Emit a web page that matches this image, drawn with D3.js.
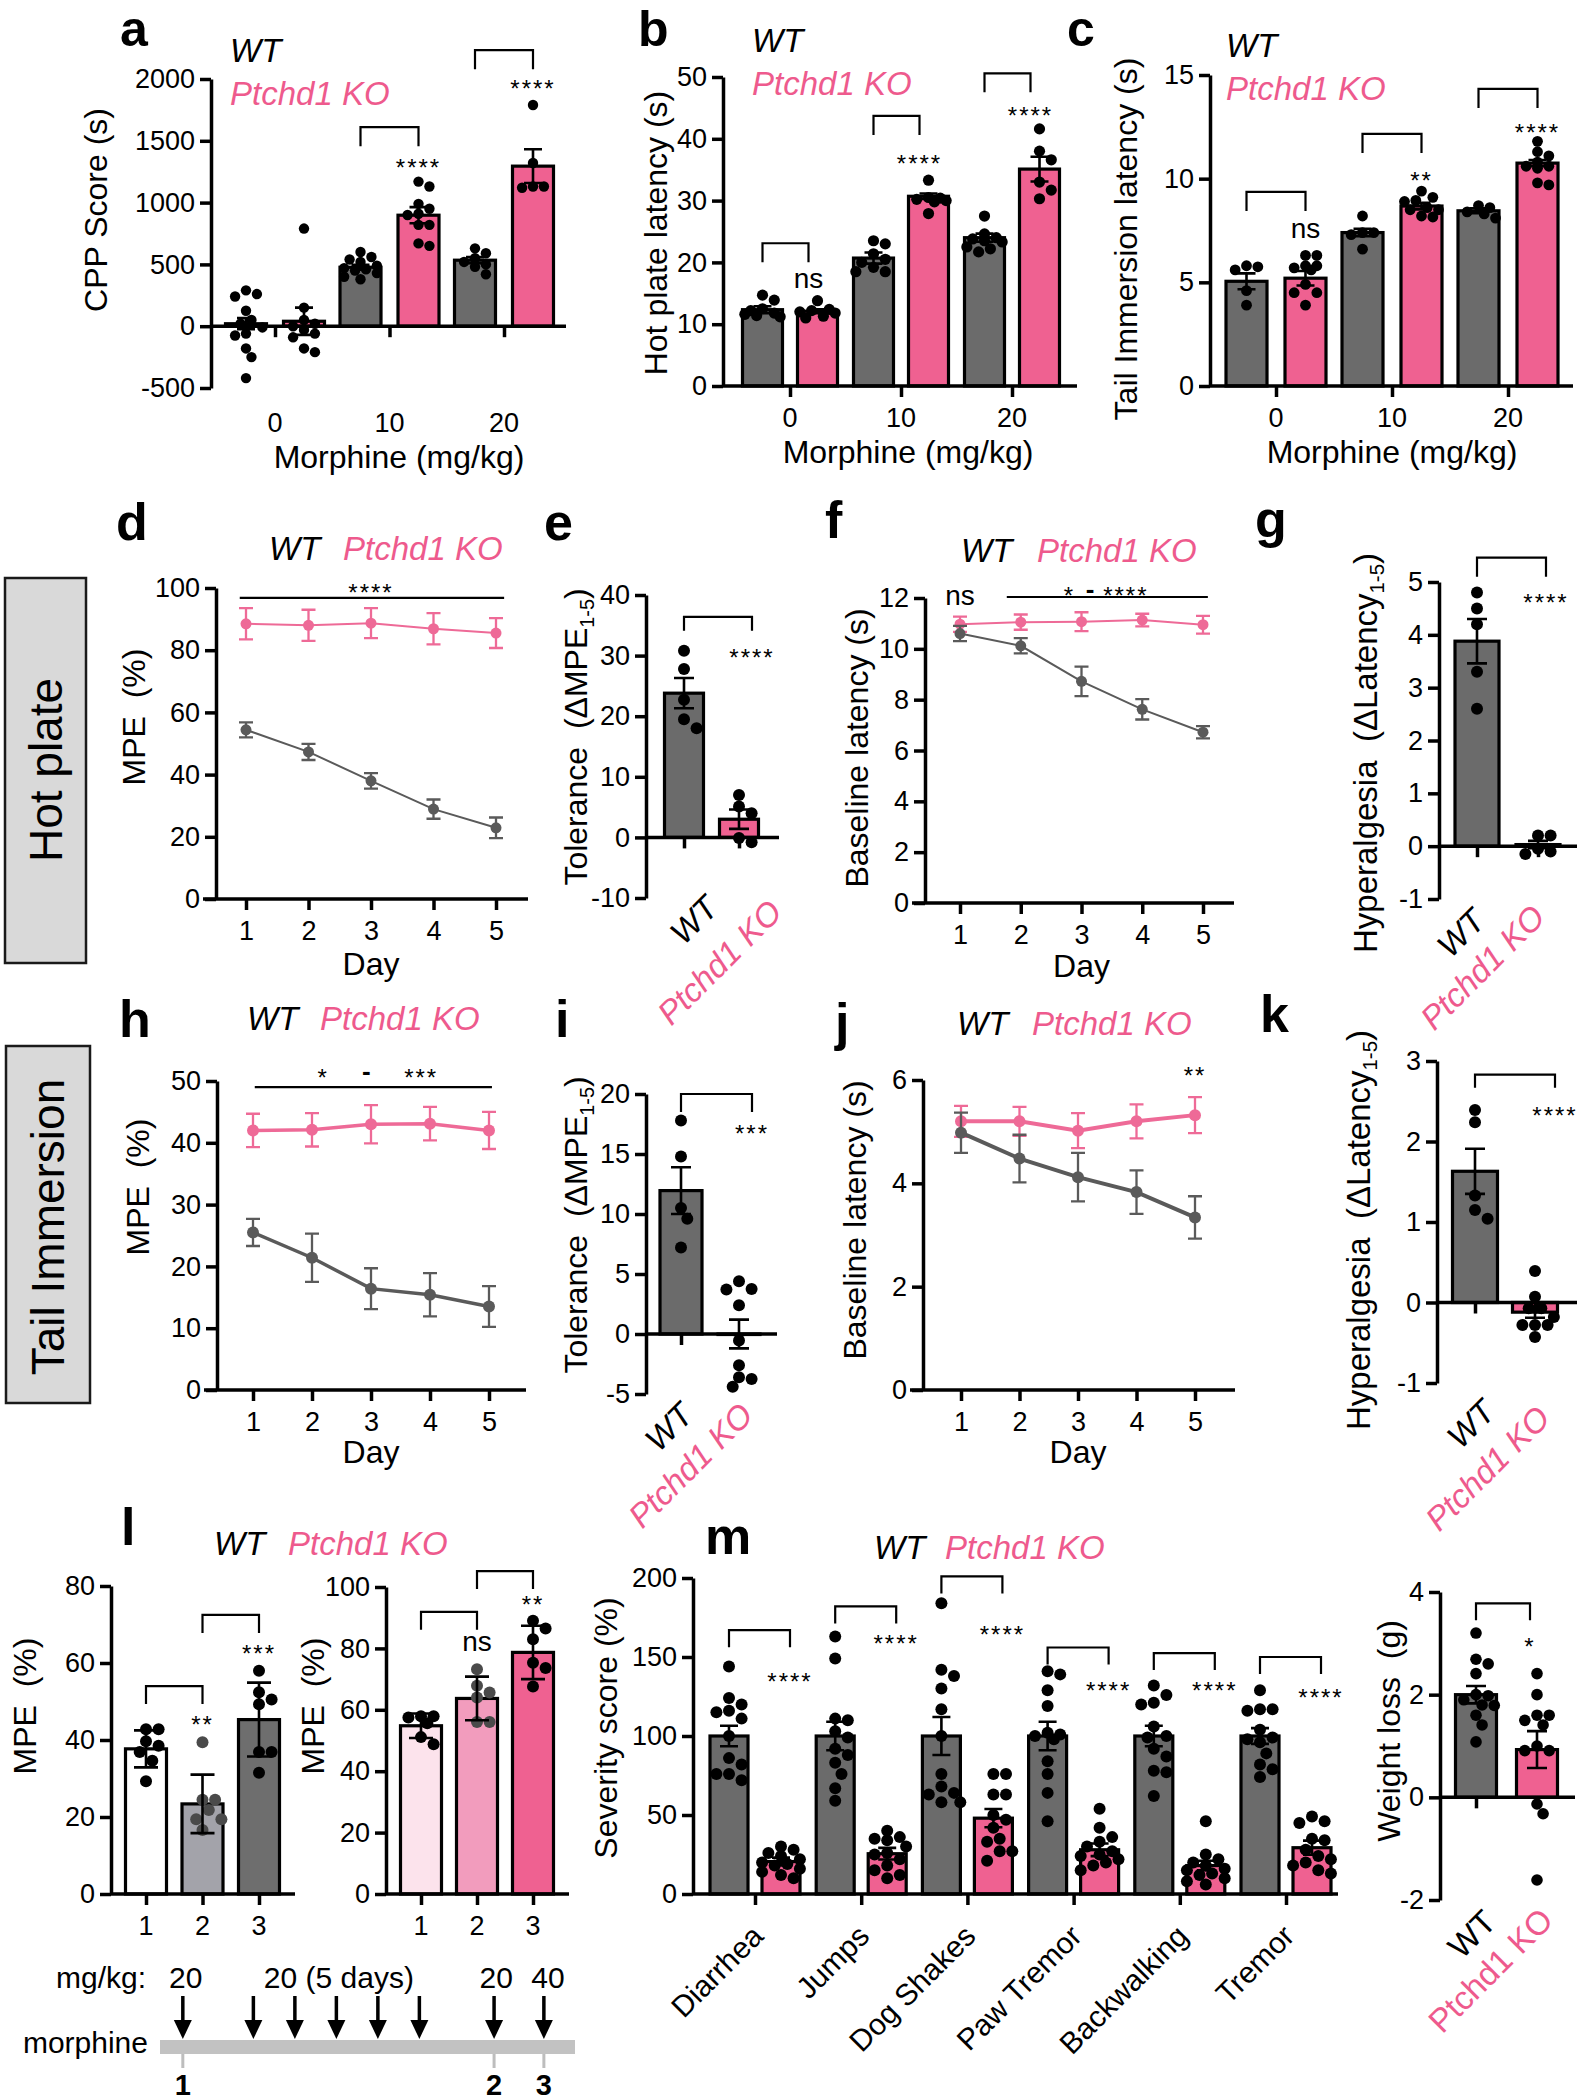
<!DOCTYPE html>
<html><head><meta charset="utf-8">
<script src="https://cdn.jsdelivr.net/npm/d3@7"></script>
<style>
html,body{margin:0;padding:0;background:#fff;}
svg{display:block;}
text{white-space:pre;}
</style></head>
<body>
<svg id="fig" width="1583" height="2100" xmlns="http://www.w3.org/2000/svg"></svg>
<script>
// ================= DATA =================
const days = [1, 2, 3, 4, 5];
const genotypes = ["WT", "Ptchd1 KO"];
const doseCats = ["0", "10", "20"];

// a – CPP score
const aTicks = [-500, 0, 500, 1000, 1500, 2000];
const aWTMean = [20, 477, 534], aWTSem = [45, 20, 25];
const aKOMean = [40, 898, 1295], aKOSem = [110, 65, 137];
const aWTDots = [[290,240,260,125,50,20,-10,-60,-75,-180,-250,-420],[600,560,540,520,490,470,460,450,430,400,380],[630,590,550,520,500,480,420]];
const aKODots = [[790,150,50,20,0,-30,-90,-180,-210,-60],[1170,1130,990,950,910,900,820,820,670,650],[1790,1320,1130,1120,1130]];
const aSigLabel = [null, "****", "****"];
const aSigTop = [null, 1610, 2233];
const aSigY = [null, 1327, 1966];

// b – hot plate latency
const bTicks = [0, 10, 20, 30, 40, 50];
const bWTMean = [12.35, 20.7, 24.0], bWTSem = [0.55, 0.9, 0.65];
const bKOMean = [12.1, 30.7, 35.1], bKOSem = [0.3, 0.45, 2.0];
const bWTDots = [[14.7,13.9,12.5,12.2,11.8,11.4,11.2,11.6],[23.5,23.0,21.4,20.5,20.0,19.2,18.5,18.5],[27.5,24.6,24,23.8,23.3,22.5,22.2,21.7,23.5]];
const bKODots = [[13.8,12.4,12.2,11.8,11.3,11.0,12.0],[33.3,30.5,30.2,30.0,29.8,27.9,30.4],[41.6,38.0,36.6,33.0,31.7,30.3]];
const bSigLabel = ["ns", "****", "****"];
const bSigTop = [23.1, 43.7, 50.6];
const bSigY = [17.2, 36.9, 44.7];

// c – tail immersion latency
const cTicks = [0, 5, 10, 15];
const cWTMean = [5.05, 7.4, 8.45], cWTSem = [0.38, 0.18, 0.12];
const cKOMean = [5.2, 8.68, 10.75], cKOSem = [0.35, 0.16, 0.15];
const cWTDots = [[5.8,5.75,5.6,4.6,3.9],[8.2,7.4,7.4,7.3,6.6],[8.7,8.6,8.4,8.3,8.1]];
const cKODots = [[6.3,6.3,5.8,5.8,5.7,5.6,4.9,4.5,4.5,3.9],[9.4,9.1,8.95,8.9,8.6,8.5,8.5,8.2,8.15],[11.8,11.3,11.1,10.8,10.6,10.6,10.5,9.8,9.7]];
const cSigLabel = ["ns", "**", "****"];
const cSigTop = [9.36, 12.16, 14.33];
const cSigY = [7.53, 10.18, 12.49];

// d – hot plate MPE over days
const dTicks = [0, 20, 40, 60, 80, 100];
const dKOMean = [88.5, 88.0, 88.7, 86.9, 85.5], dKOErr = [5, 5, 4.8, 5, 4.8];
const dWTMean = [54.4, 47.3, 38.0, 28.9, 22.9], dWTErr = [2.4, 2.6, 2.5, 3.1, 3.3];
const dSigLine = [0.9, 5.13, 96.8];
const dSigText = [{d: 3, v: 100.3, s: "****"}];

// e – tolerance (hot plate)
const eTicks = [-10, 0, 10, 20, 30, 40];
const eMean = [23.8, 3.0], eSem = [2.5, 1.6];
const eDots = [[30.8,27.8,22.7,19.5,18.0],[7.0,5.1,4.0,-0.1,-0.8]];
const eSig = {top: 36.4, y: 30.6, s: "****"};

// f – baseline latency (hot plate)
const fTicks = [0, 2, 4, 6, 8, 10, 12];
const fKOMean = [10.97, 11.05, 11.07, 11.13, 10.95], fKOErr = [0.3, 0.3, 0.37, 0.25, 0.35];
const fWTMean = [10.6, 10.12, 8.72, 7.62, 6.72], fWTErr = [0.3, 0.3, 0.58, 0.4, 0.24];
const fSigLine = [1.77, 5.08, 12.04];
const fSigText = [{d: 1, v: 12.04, s: "ns"}, {d: 2.8, v: 12.3, s: "*"}, {d: 3.14, v: 12.3, s: "-"}, {d: 3.73, v: 12.3, s: "****"}];

// g – hyperalgesia (hot plate)
const gTicks = [-1, 0, 1, 2, 3, 4, 5];
const gMean = [3.88, 0.03], gSem = [0.42, 0.07];
const gDots = [[4.8,4.5,4.2,3.3,2.6],[0.2,0.2,-0.15,-0.1,-0.05]];
const gSig = {top: 5.46, y: 4.71, s: "****"};

// h – tail immersion MPE over days
const hTicks = [0, 10, 20, 30, 40, 50];
const hKOMean = [42.0, 42.1, 43.0, 43.1, 42.0], hKOErr = [2.7, 2.7, 3.1, 2.7, 3.0];
const hWTMean = [25.5, 21.4, 16.4, 15.4, 13.5], hWTErr = [2.2, 3.9, 3.3, 3.5, 3.3];
const hSigLine = [1.03, 5.05, 49.0];
const hSigText = [{d: 2.19, v: 51.5, s: "*"}, {d: 2.92, v: 51.5, s: "-"}, {d: 3.85, v: 51.5, s: "***"}];

// i – tolerance (tail immersion)
const iTicks = [-5, 0, 5, 10, 15, 20];
const iMean = [11.95, 0.0], iSem = [1.95, 1.2];
const iDots = [[17.8,14.8,10.5,9.6,7.2],[4.4,3.75,3.7,2.4,-0.55,-2.6,-3.6,-3.75,-4.4]];
const iSig = {top: 20.0, y: 17.2, s: "***"};

// j – baseline latency (tail immersion)
const jTicks = [0, 2, 4, 6];
const jKOMean = [5.2, 5.2, 5.02, 5.2, 5.32], jKOErr = [0.3, 0.28, 0.34, 0.33, 0.35];
const jWTMean = [4.98, 4.48, 4.12, 3.83, 3.34], jWTErr = [0.39, 0.46, 0.47, 0.42, 0.41];
const jSigText = [{d: 5, v: 6.19, s: "**"}];

// k – hyperalgesia (tail immersion)
const kTicks = [-1, 0, 1, 2, 3];
const kMean = [1.63, -0.12], kSem = [0.28, 0.07];
const kDots = [[2.39,2.24,1.33,1.15,1.04],[0.39,0.07,-0.07,-0.07,-0.18,-0.28,-0.28,-0.28,-0.43]];
const kSig = {top: 2.83, y: 2.39, s: "****"};

// l – MPE at test points 1–3
const lCats = ["1", "2", "3"];
const lWTTicks = [0, 20, 40, 60, 80];
const lKOTicks = [0, 20, 40, 60, 80, 100];
const lWTMean = [37.7, 23.4, 45.3], lWTSd = [4.8, 7.6, 9.6];
const lWTDots = [[42.8,42.8,39.7,38.5,36.9,34.6,29.3],[39.4,24.5,24.5,21.8,19.4,19.4,16.6],[58.0,52.4,50.5,49.3,36.9,36.9,31.5]];
const lKOMean = [54.8, 63.7, 78.7], lKOSd = [4.0, 7.1, 8.7];
const lKODots = [[57.9,57.5,57.9,55.6,48.8,51.1],[73.2,67.8,65.6,64,56,56],[89,86.5,83,73.6,75.3,67.6]];
const lWTSig = [{a: "1", b: "2", top: 54, y: 45.5, s: "**"}, {a: "2", b: "3", top: 72.5, y: 63.9, s: "***"}];
const lKOSig = [{a: "1", b: "2", top: 91.9, y: 81.8, s: "ns"}, {a: "2", b: "3", top: 105.2, y: 96.1, s: "**"}];
// timeline
const tlInject = [1, 2.7, 3.7, 4.7, 5.7, 6.7, 8.5, 9.7];
const tlDoseLabel = ["20", "20 (5 days)", "20", "40"];
const tlDoseT = [1.07, 4.76, 8.55, 9.8];
const tlTestLabel = ["1", "2", "3"];
const tlTestT = [1, 8.5, 9.7];

// m – withdrawal severity
const mCats = ["Diarrhea", "Jumps", "Dog Shakes", "Paw Tremor", "Backwalking", "Tremor"];
const mTicks = [0, 50, 100, 150, 200];
const mWTMean = [100, 100, 100, 100, 100, 100], mWTSem = [6.5, 9, 12, 9, 6.5, 5];
const mKOMean = [20.5, 25.5, 48, 28, 18, 29.3], mKOSem = [2.5, 3.7, 5.8, 4, 3, 4.5];
const mWTDots = [[144,124,120,116,115,111,100,86,82,76,76,72],[163,149,111,110,103,99,92,88,83,76,67,59],[184,142,138,130,117,100,76,68,64,63,58,58],[141,139,129,119,102,101,100,98,84,76,64,46],[132,126,121,120,106,100,99,92,87,78,77,62],[129,117,117,116,104,99,98,96,89,79,74,82]];
const mKODots = [[30,28,26,24,22,20,19,18,16,14,12,10],[40,36,35,34,30,26,25,22,18,15,12,10],[76,76,63,63,50,47,42,35,33,27,27,21],[54,42,36,33,30,27,25,24,22,20,18,15],[46,25,22,20,18,16,15,13,12,10,8,6],[49,46,45,35,34,28,24,22,18,15,13,20]];
const mSigTop = [167, 182, 201, 156, 152.5, 150];
const mSigY = [138, 162, 168, 132, 132, 128];
const mSigLabel = ["****", "****", "****", "****", "****", "****"];

// weight loss
const wTicks = [-2, 0, 2, 4];
const wMean = [2.0, 0.93], wSem = [0.17, 0.36];
const wDots = [[3.2,2.69,2.6,2.41,2.0,1.98,1.9,1.8,1.79,1.6,1.41,1.08],[2.41,2.0,1.6,1.6,1.5,1.41,1.0,0.91,0.91,-0.13,-0.32,-1.61]];
const wSig = {top: 3.78, y: 3.04, s: "*"};

// ================= STYLE / HELPERS =================
const svg = d3.select("#fig");
const FF = "'Liberation Sans', Arial, Helvetica, sans-serif";
svg.attr("font-family", FF);
const PINK = "#ef6191", PINKTXT = "#ee5a8d", WTGRAY = "#6b6b6b";
const LPINK = "#ee6a97", LGRAY = "#5a5a5a";

function T(g, x, y, s, o = {}) {
  const t = g.append("text").attr("x", x).attr("y", y).text(s)
    .attr("font-size", o.fs || 27).attr("fill", o.fill || "#000")
    .attr("text-anchor", o.anchor || "start");
  if (o.italic) t.attr("font-style", "italic");
  if (o.bold) t.attr("font-weight", "bold");
  if (o.ls != null) t.attr("letter-spacing", o.ls);
  if (o.rot != null) t.attr("transform", `rotate(${o.rot},${x},${y})`);
  return t;
}
function vTitle(g, cx, cy, parts, fs = 32) {
  const t = g.append("text").attr("transform", `translate(${cx + 0.36 * fs},${cy}) rotate(-90)`)
    .attr("text-anchor", "middle").attr("font-size", fs).attr("fill", "#000");
  let shifted = false;
  parts.forEach(p => {
    const ts = t.append("tspan").text(p[0]);
    if (p[1] === "sub") { ts.attr("font-size", fs * 0.62).attr("dy", fs * 0.22); shifted = true; }
    else if (shifted) { ts.attr("dy", -fs * 0.22); shifted = false; }
  });
}
function yAxis(g, y, x0, ticks, o = {}) {
  const ax = d3.axisLeft(y).tickValues(ticks).tickSize(o.tl || 11).tickSizeOuter(0)
    .tickPadding(o.tp || 5).tickFormat(d => String(d));
  const a = g.append("g").attr("transform", `translate(${x0},0)`).call(ax);
  a.attr("font-family", FF).attr("font-size", o.fs || 27);
  a.select(".domain").attr("stroke", "#000").attr("stroke-width", 3.5);
  a.selectAll(".tick line").attr("stroke", "#000").attr("stroke-width", 3.5);
  a.selectAll(".tick text").attr("fill", "#000");
  return a;
}
function swarm(vals, y, r, maxOff) {
  const order = vals.map((v, i) => i).sort((a, b) => vals[b] - vals[a]);
  const placed = [], off = new Array(vals.length).fill(0);
  const step = r * 1.05, cands = [0];
  for (let k = 1; k * step <= maxOff + 0.01; k++) cands.push(k * step, -k * step);
  order.forEach(i => {
    const py = y(vals[i]);
    let best = 0, bestD = -1;
    for (const c of cands) {
      let md = Infinity;
      placed.forEach(p => { const d = Math.hypot(p[0] - c, p[1] - py); if (d < md) md = d; });
      if (md >= 2 * r * 0.95) { best = c; break; }
      if (md > bestD) { bestD = md; best = c; }
    }
    off[i] = best; placed.push([best, py]);
  });
  return off;
}
function renderBars(g, y, items, o) {
  const base = y(Math.max(0, y.domain()[0]));
  items.forEach(it => {
    const yt = y(it.m);
    g.append("rect").attr("x", it.cx - o.w / 2).attr("y", Math.min(yt, base))
      .attr("width", o.w).attr("height", Math.max(Math.abs(base - yt), 0.5))
      .attr("fill", it.fill).attr("stroke", "#000").attr("stroke-width", 3.2);
  });
  g.append("line").attr("x1", o.x0).attr("x2", o.xEnd).attr("y1", y(0)).attr("y2", y(0))
    .attr("stroke", "#000").attr("stroke-width", 3.5);
  const ax = d3.axisBottom(o.tickScale).tickSize(11).tickSizeOuter(0).tickFormat(() => "");
  const a = g.append("g").attr("transform", `translate(0,${y(0)})`).call(ax);
  a.select(".domain").remove();
  a.selectAll(".tick line").attr("stroke", "#000").attr("stroke-width", 3.5);
  items.forEach(it => {
    const offs = swarm(it.dots, y, o.r, o.w / 2 + 1);
    it.dots.forEach((v, i) => g.append("circle").attr("cx", it.cx + offs[i]).attr("cy", y(v))
      .attr("r", o.r).attr("fill", it.dotFill || "#000"));
  });
  items.forEach(it => {
    const t = y(it.m + it.e), b = y(it.m - it.e), c = o.cap || 9;
    g.append("path").attr("d", `M${it.cx},${b}V${t}M${it.cx - c},${t}H${it.cx + c}M${it.cx - c},${b}H${it.cx + c}`)
      .attr("fill", "none").attr("stroke", "#000").attr("stroke-width", 2.6);
  });
}
function sigText(g, x, yc, s) {
  if (s === "ns") T(g, x, yc + 8, "ns", {anchor: "middle", fs: 28});
  else if (s === "-") T(g, x, yc + 8, "-", {anchor: "middle", fs: 26, bold: true});
  else T(g, x, yc + 14, s, {anchor: "middle", fs: 24, ls: 2});
}
function bracket(g, x1, x2, yTop, leg, s, lx, lyc) {
  g.append("path").attr("d", `M${x1},${yTop + leg}V${yTop}H${x2}V${yTop + leg}`)
    .attr("fill", "none").attr("stroke", "#000").attr("stroke-width", 2.2);
  sigText(g, lx, lyc, s);
}
function legendRow(g, x1, x2, yb) {
  T(g, x1, yb, "WT", {italic: true, fs: 33});
  T(g, x2, yb, "Ptchd1 KO", {italic: true, fs: 33, fill: PINKTXT});
}
function grouped(cats, x, sub, wm, ws, wd, km, ks, kd) {
  const items = [];
  cats.forEach((c, i) => {
    items.push({cx: x(c) + sub("WT"), m: wm[i], e: ws[i], dots: wd[i], fill: WTGRAY});
    items.push({cx: x(c) + sub("KO"), m: km[i], e: ks[i], dots: kd[i], fill: PINK});
  });
  return items;
}

// -------- grouped dose panels a, b, c --------
function dosePanel(o) {
  const g = svg.append("g");
  const y = d3.scaleLinear().domain(o.domain).range([o.yBot, o.yTop]);
  const x = d3.scalePoint().domain(doseCats).range(o.cRange);
  const sub = d3.scalePoint().domain(["WT", "KO"]).range([-o.off, o.off]);
  renderBars(g, y, grouped(doseCats, x, sub, o.wm, o.ws, o.wd, o.km, o.ks, o.kd),
    {x0: o.x0, xEnd: o.xEnd, w: o.w, r: o.r, tickScale: x});
  yAxis(g, y, o.x0, o.ticks);
  doseCats.forEach(c => T(g, x(c), o.yBot + o.lblDy, c, {anchor: "middle"}));
  T(g, o.titleX, o.yBot + o.lblDy + 36, "Morphine (mg/kg)", {anchor: "middle", fs: 32});
  vTitle(g, o.ytX, o.ytY, [[o.ytitle]]);
  doseCats.forEach((c, i) => {
    if (!o.sigS[i]) return;
    const x1 = x(c) + sub("WT"), x2 = x(c) + sub("KO") + (o.x2shift || 0);
    bracket(g, x1, x2, y(o.sigTop[i]), 19, o.sigS[i], x2, y(o.sigY[i]));
  });
  T(g, o.legX, o.legY1, "WT", {italic: true, fs: 33});
  T(g, o.legX, o.legY2, "Ptchd1 KO", {italic: true, fs: 33, fill: PINKTXT});
  T(g, o.letX, 46, o.letter, {bold: true, fs: 50});
}
dosePanel({domain: [-500, 2000], yBot: 388, yTop: 79, cRange: [275, 504], off: 29, w: 41, r: 5.2,
  x0: 211, xEnd: 566, ticks: aTicks, wm: aWTMean, ws: aWTSem, wd: aWTDots, km: aKOMean, ks: aKOSem, kd: aKODots,
  lblDy: 44, titleX: 399, ytX: 95, ytY: 210, ytitle: "CPP Score (s)",
  sigS: aSigLabel, sigTop: aSigTop, sigY: aSigY, legX: 230, legY1: 62, legY2: 105, letX: 120, letter: "a"});
dosePanel({domain: [0, 50], yBot: 386, yTop: 77, cRange: [790, 1012], off: 27.5, w: 40, r: 5.6,
  x0: 723, xEnd: 1077, ticks: bTicks, wm: bWTMean, ws: bWTSem, wd: bWTDots, km: bKOMean, ks: bKOSem, kd: bKODots,
  lblDy: 41, titleX: 908, ytX: 655, ytY: 233, ytitle: "Hot plate latency (s)", x2shift: -9,
  sigS: bSigLabel, sigTop: bSigTop, sigY: bSigY, legX: 752, legY1: 52, legY2: 95, letX: 638, letter: "b"});
dosePanel({domain: [0, 15], yBot: 386, yTop: 75, cRange: [1276, 1508], off: 29.5, w: 41, r: 5.4,
  x0: 1210, xEnd: 1573, ticks: cTicks, wm: cWTMean, ws: cWTSem, wd: cWTDots, km: cKOMean, ks: cKOSem, kd: cKODots,
  lblDy: 41, titleX: 1392, ytX: 1125, ytY: 239, ytitle: "Tail Immersion latency (s)",
  sigS: cSigLabel, sigTop: cSigTop, sigY: cSigY, legX: 1226, legY1: 57, legY2: 100, letX: 1067, letter: "c"});

// -------- line panels d, f, h, j --------
function linePanel(o) {
  const g = svg.append("g");
  const y = d3.scaleLinear().domain(o.domain).range([o.yBot, o.yTop]);
  const x = d3.scaleLinear().domain([1, 5]).range(o.dayRange);
  g.append("line").attr("x1", o.x0 - 13).attr("x2", o.xEnd).attr("y1", o.yBot).attr("y2", o.yBot)
    .attr("stroke", "#000").attr("stroke-width", 3.5);
  const ax = d3.axisBottom(x).tickValues(days).tickSize(11).tickSizeOuter(0).tickPadding(11).tickFormat(d => String(d));
  const a = g.append("g").attr("transform", `translate(0,${o.yBot})`).call(ax);
  a.attr("font-family", FF).attr("font-size", 27);
  a.select(".domain").remove();
  a.selectAll(".tick line").attr("stroke", "#000").attr("stroke-width", 3.5);
  a.selectAll(".tick text").attr("fill", "#000");
  yAxis(g, y, o.x0, o.ticks);
  o.series.forEach(s => {
    g.append("path").attr("d", d3.line().x((d, i) => x(days[i])).y(d => y(d))(s.m))
      .attr("fill", "none").attr("stroke", s.c).attr("stroke-width", o.lw);
    s.m.forEach((v, i) => {
      const cx = x(days[i]), t = y(v + s.e[i]), b = y(v - s.e[i]);
      g.append("path").attr("d", `M${cx},${b}V${t}M${cx - 7},${t}H${cx + 7}M${cx - 7},${b}H${cx + 7}`)
        .attr("fill", "none").attr("stroke", s.c).attr("stroke-width", 2.3);
      g.append("circle").attr("cx", cx).attr("cy", y(v)).attr("r", o.r).attr("fill", s.c);
    });
  });
  if (o.sigLine) g.append("line").attr("x1", x(o.sigLine[0])).attr("x2", x(o.sigLine[1]))
    .attr("y1", y(o.sigLine[2])).attr("y2", y(o.sigLine[2])).attr("stroke", "#000").attr("stroke-width", 2.2);
  (o.sigText || []).forEach(s => sigText(g, x(s.d), y(s.v), s.s));
  T(g, x(3), o.yBot + o.dayDy, "Day", {anchor: "middle", fs: 32});
  vTitle(g, o.ytX, o.ytY, [[o.ytitle]]);
  legendRow(g, o.legX1, o.legX2, o.legY);
  T(g, o.letX, o.letY, o.letter, {bold: true, fs: 52});
}
linePanel({domain: [0, 100], yBot: 899, yTop: 588, x0: 216, xEnd: 528, dayRange: [246, 496], ticks: dTicks, lw: 2, r: 5.5,
  series: [{m: dKOMean, e: dKOErr, c: LPINK}, {m: dWTMean, e: dWTErr, c: LGRAY}],
  sigLine: dSigLine, sigText: dSigText, dayDy: 76, ytX: 133, ytY: 717, ytitle: "MPE  (%)",
  legX1: 269, legX2: 343, legY: 560, letX: 116, letY: 540, letter: "d"});
linePanel({domain: [0, 12], yBot: 903, yTop: 598, x0: 925, xEnd: 1234, dayRange: [960, 1203], ticks: fTicks, lw: 2, r: 5.5,
  series: [{m: fKOMean, e: fKOErr, c: LPINK}, {m: fWTMean, e: fWTErr, c: LGRAY}],
  sigLine: fSigLine, sigText: fSigText, dayDy: 74, ytX: 856, ytY: 748, ytitle: "Baseline latency (s)",
  legX1: 961, legX2: 1037, legY: 562, letX: 825, letY: 538, letter: "f"});
linePanel({domain: [0, 50], yBot: 1390, yTop: 1081, x0: 217, xEnd: 526, dayRange: [253, 489], ticks: hTicks, lw: 3.5, r: 6,
  series: [{m: hKOMean, e: hKOErr, c: LPINK}, {m: hWTMean, e: hWTErr, c: LGRAY}],
  sigLine: hSigLine, sigText: hSigText, dayDy: 73, ytX: 137, ytY: 1187, ytitle: "MPE  (%)",
  legX1: 247, legX2: 320, legY: 1030, letX: 119, letY: 1037, letter: "h"});
linePanel({domain: [0, 6], yBot: 1390, yTop: 1080, x0: 923, xEnd: 1235, dayRange: [961, 1195], ticks: jTicks, lw: 4, r: 6,
  series: [{m: jKOMean, e: jKOErr, c: LPINK}, {m: jWTMean, e: jWTErr, c: LGRAY}],
  sigText: jSigText, dayDy: 73, ytX: 854, ytY: 1220, ytitle: "Baseline latency (s)",
  legX1: 957, legX2: 1032, legY: 1035, letX: 835, letY: 1040, letter: "j"});

// -------- two-bar panels e, g, i, k, weight --------
function twoBar(o) {
  const g = svg.append("g");
  const y = d3.scaleLinear().domain(o.domain).range([o.yBot, o.yTop]);
  const x = d3.scalePoint().domain(genotypes).range(o.cRange);
  const items = genotypes.map((k, i) => ({cx: x(k), m: o.mean[i], e: o.sem[i], dots: o.dots[i], fill: i ? PINK : WTGRAY}));
  renderBars(g, y, items, {x0: o.x0, xEnd: o.xEnd, w: o.w, r: o.r, tickScale: x, cap: 10});
  yAxis(g, y, o.x0, o.ticks);
  const x1 = x(genotypes[0]), x2 = x(genotypes[1]) + o.x2shift;
  bracket(g, x1, x2, y(o.sig.top), o.leg, o.sig.s, x2, y(o.sig.y));
  genotypes.forEach((k, i) => T(g, x(k) + o.lblDx[i], o.yBot + o.lblDy[i], k,
    {anchor: "end", rot: -45, fs: 33, italic: o.italic, fill: i ? PINKTXT : "#000"}));
  vTitle(g, o.ytX, o.ytY, o.ytitle, o.ytFs || 32);
  if (o.letter) T(g, o.letX, o.letY, o.letter, {bold: true, fs: 52});
}
twoBar({domain: [-10, 40], yBot: 898, yTop: 595, x0: 646, xEnd: 779, cRange: [684, 739], w: 39, r: 6, ticks: eTicks,
  mean: eMean, sem: eSem, dots: eDots, sig: eSig, leg: 14, x2shift: 13, lblDx: [36, 45], lblDy: [12, 16], italic: true,
  ytX: 575, ytY: 737, ytitle: [["Tolerance  (ΔMPE"], ["1-5", "sub"], [")"]], letter: "e", letX: 544, letY: 540});
twoBar({domain: [-1, 5], yBot: 899, yTop: 582, x0: 1439, xEnd: 1577, cRange: [1477, 1538], w: 44, r: 6, ticks: gTicks,
  mean: gMean, sem: gSem, dots: gDots, sig: gSig, leg: 19, x2shift: 8, lblDx: [10, 9], lblDy: [24, 20], italic: true,
  ytX: 1365, ytY: 753, ytitle: [["Hyperalgesia  (ΔLatency"], ["1-5", "sub"], [")"]], ytFs: 33, letter: "g", letX: 1255, letY: 537});
twoBar({domain: [-5, 20], yBot: 1394, yTop: 1094, x0: 646, xEnd: 777, cRange: [681, 739], w: 42, r: 6, ticks: iTicks,
  mean: iMean, sem: iSem, dots: iDots, sig: iSig, leg: 18, x2shift: 13, lblDx: [14, 16], lblDy: [23, 23], italic: true,
  ytX: 575, ytY: 1225, ytitle: [["Tolerance  (ΔMPE"], ["1-5", "sub"], [")"]], letter: "i", letX: 555, letY: 1037});
twoBar({domain: [-1, 3], yBot: 1383, yTop: 1061, x0: 1437, xEnd: 1577, cRange: [1475, 1535], w: 45, r: 6, ticks: kTicks,
  mean: kMean, sem: kSem, dots: kDots, sig: kSig, leg: 13, x2shift: 20, lblDx: [22, 17], lblDy: [31, 37], italic: true,
  ytX: 1358, ytY: 1230, ytitle: [["Hyperalgesia  (ΔLatency"], ["1-5", "sub"], [")"]], ytFs: 33, letter: "k", letX: 1260, letY: 1032});
twoBar({domain: [-2, 4], yBot: 1900, yTop: 1592, x0: 1440, xEnd: 1575, cRange: [1476, 1537], w: 41, r: 5.8, ticks: wTicks,
  mean: wMean, sem: wSem, dots: wDots, sig: wSig, leg: 17, x2shift: -7, lblDx: [22, 18], lblDy: [24, 22], italic: false,
  ytX: 1388, ytY: 1731, ytitle: [["Weight loss  (g)"]]});

// -------- side boxes --------
function sideBox(x, y, w, h, label, cy) {
  const g = svg.append("g");
  g.append("rect").attr("x", x).attr("y", y).attr("width", w).attr("height", h)
    .attr("fill", "#d9d9d9").attr("stroke", "#1a1a1a").attr("stroke-width", 2.5);
  g.append("text").attr("transform", `translate(${x + w / 2 + 16},${cy}) rotate(-90)`)
    .attr("text-anchor", "middle").attr("font-size", 46).attr("fill", "#000").text(label);
}
sideBox(5, 578, 81, 385, "Hot plate", 770);
sideBox(6, 1046, 84, 357, "Tail Immersion", 1227);

// -------- panel l --------
function lPanel(o) {
  const g = svg.append("g");
  const y = d3.scaleLinear().domain(o.domain).range([1894, o.yTop]);
  const x = d3.scalePoint().domain(lCats).range(o.cRange);
  const items = lCats.map((c, i) => ({cx: x(c), m: o.mean[i], e: o.sd[i], dots: o.dots[i], fill: o.fills[i], dotFill: o.dotFills[i]}));
  renderBars(g, y, items, {x0: o.x0, xEnd: o.xEnd, w: 41, r: 6, tickScale: x, cap: 12});
  yAxis(g, y, o.x0, o.ticks);
  lCats.forEach(c => T(g, x(c), 1935, c, {anchor: "middle"}));
  o.sig.forEach(s => bracket(g, x(s.a), x(s.b), y(s.top), 18, s.s, x(s.b), y(s.y)));
  vTitle(g, o.ytX, 1706, [["MPE  (%)"]]);
}
lPanel({domain: [0, 80], yTop: 1586, x0: 111, xEnd: 295, cRange: [146, 259], ticks: lWTTicks,
  mean: lWTMean, sd: lWTSd, dots: lWTDots, fills: ["#ffffff", "#a3a3aa", "#6e6e6e"], dotFills: ["#000", "#4a4a4a", "#000"],
  sig: lWTSig, ytX: 24});
lPanel({domain: [0, 100], yTop: 1587, x0: 386, xEnd: 569, cRange: [421, 533], ticks: lKOTicks,
  mean: lKOMean, sd: lKOSd, dots: lKODots, fills: ["#fce3ec", "#f29cbd", "#ef6191"], dotFills: ["#000", "#4a4a4a", "#000"],
  sig: lKOSig, ytX: 312});
{
  const g = svg.append("g");
  legendRow(g, 214, 288, 1555);
  T(g, 121, 1545, "l", {bold: true, fs: 52});
  const tx = d3.scaleLinear().domain([0.45, 10.45]).range([160, 575]);
  g.append("rect").attr("x", tx(0.45)).attr("y", 2040).attr("width", tx(10.45) - tx(0.45)).attr("height", 14).attr("fill", "#c2c2c2");
  tlTestT.forEach((t, i) => {
    g.append("line").attr("x1", tx(t)).attr("x2", tx(t)).attr("y1", 2054).attr("y2", 2068).attr("stroke", "#bdbdbd").attr("stroke-width", 3);
    T(g, tx(t), 2095, tlTestLabel[i], {anchor: "middle", bold: true, fs: 29});
  });
  tlInject.forEach(t => {
    const cx = tx(t);
    g.append("line").attr("x1", cx).attr("x2", cx).attr("y1", 1996).attr("y2", 2024).attr("stroke", "#000").attr("stroke-width", 3.5);
    g.append("path").attr("d", `M${cx - 9},2020L${cx + 9},2020L${cx},2039Z`).attr("fill", "#000");
  });
  tlDoseT.forEach((t, i) => T(g, tx(t), 1988, tlDoseLabel[i], {anchor: "middle", fs: 30}));
  T(g, 146, 1988, "mg/kg:", {anchor: "end", fs: 30});
  T(g, 148, 2053, "morphine", {anchor: "end", fs: 30});
}

// -------- panel m --------
{
  const g = svg.append("g");
  const y = d3.scaleLinear().domain([0, 200]).range([1894, 1578]);
  const x = d3.scalePoint().domain(mCats).range([755, 1286]);
  const sub = d3.scalePoint().domain(["WT", "KO"]).range([-26, 26]);
  renderBars(g, y, grouped(mCats, x, sub, mWTMean, mWTSem, mWTDots, mKOMean, mKOSem, mKODots),
    {x0: 693, xEnd: 1338, w: 38, r: 6, tickScale: x});
  yAxis(g, y, 693, mTicks);
  mCats.forEach((c, i) => {
    const x1 = x(c) + sub("WT"), x2 = x(c) + sub("KO") + 9;
    bracket(g, x1, x2, y(mSigTop[i]), 17, mSigLabel[i], x2, y(mSigY[i]));
    T(g, x(c) + 10, 1938, c, {anchor: "end", rot: -45, fs: 30});
  });
  vTitle(g, 605, 1728, [["Severity score (%)"]]);
  legendRow(g, 874, 945, 1559);
  T(g, 705, 1554, "m", {bold: true, fs: 52});
}
</script>
</body></html>
